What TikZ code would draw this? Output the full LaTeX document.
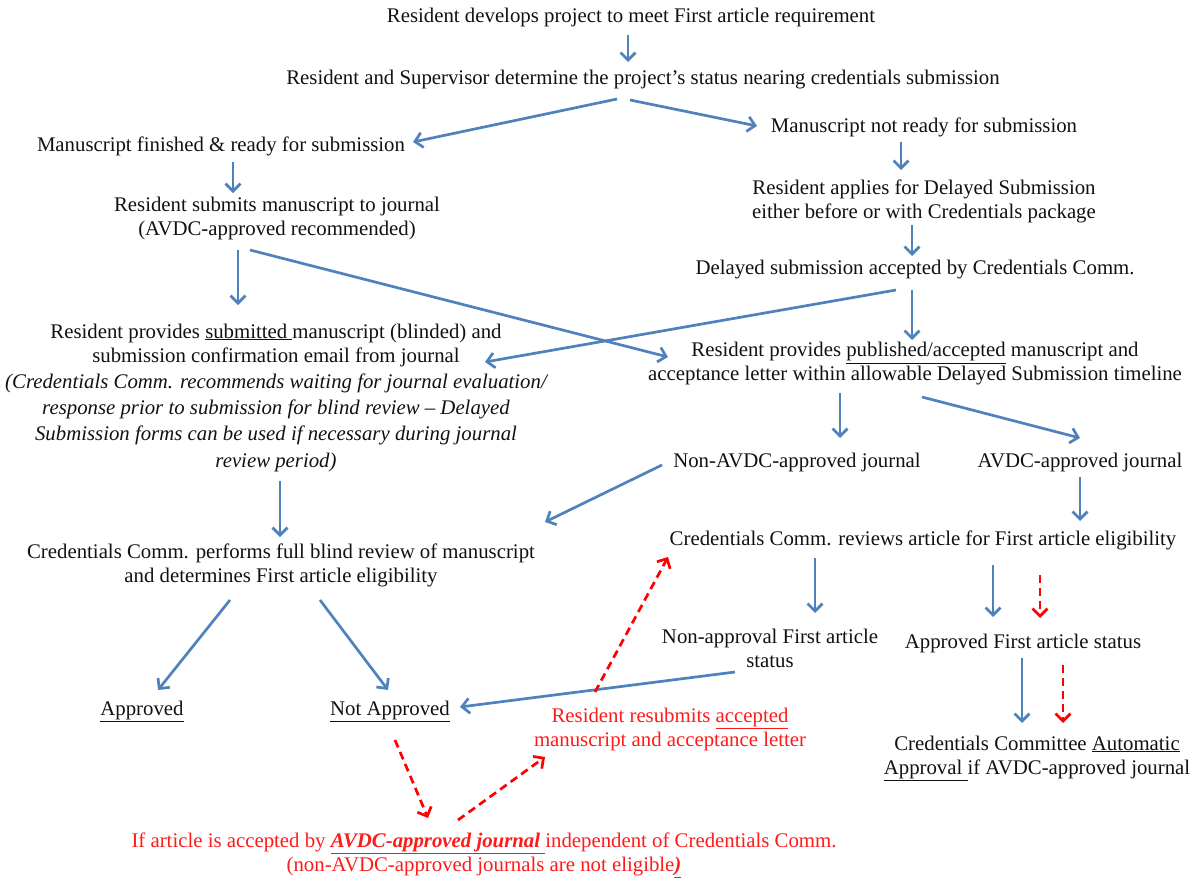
\documentclass[tikz,border=0pt]{standalone}
\usepackage{fontspec}
\setmainfont{Liberation Serif}
\usetikzlibrary{arrows.meta}
\definecolor{arrblue}{HTML}{4F81BD}
\definecolor{txt}{HTML}{111111}
\definecolor{rtxt}{HTML}{FF1A1A}
\tikzset{
  lbl/.style={align=center, inner sep=0pt, text=txt, font=\fontsize{20.8}{24}\selectfont},
  rlbl/.style={lbl, text=rtxt},
  arr/.style={draw=arrblue, line width=2.7pt, -{Straight Barb[length=7.5pt,width=15pt,line width=2.7pt]}},
  rarr/.style={draw=red, line width=2.7pt, dash pattern=on 8pt off 5pt, -{Straight Barb[length=7.5pt,width=15pt,line width=2.7pt]}}
}
\begin{document}
\begin{tikzpicture}[x=1pt,y=-1pt]
\useasboundingbox (0,0) rectangle (1190,881);
\node[lbl] (a) at (631,17) {Resident develops project to meet First article requirement};
\node[lbl] (b) at (643,80) {Resident and Supervisor determine the project’s status nearing credentials submission};
\node[lbl] (c) at (221,146) {Manuscript finished \& ready for submission};
\node[lbl] (d) at (924,127) {Manuscript not ready for submission};
\node[lbl] (e) at (277,218) {Resident submits manuscript to journal\\(AVDC-approved recommended)};
\node[lbl] (f) at (924,201) {Resident applies for Delayed Submission\\either before or with Credentials package};
\node[lbl] (g) at (915,270) {Delayed submission accepted by Credentials Comm.};
\node[lbl] (hA) at (276,345) {Resident provides \underline{submitted\ }manuscript (blinded) and\\submission confirmation email from journal};
\node[lbl, font=\fontsize{20.8}{26.3}\selectfont\itshape] (hB) at (276,422.5) {(Credentials Comm. recommends waiting for journal evaluation/\\response prior to submission for blind review – Delayed\\Submission forms can be used if necessary during journal\\review period)};
\node[lbl] (i) at (915,364) {Resident provides \underline{published/accepted} manuscript and\\acceptance letter within allowable Delayed Submission timeline};
\node[lbl] (j) at (797,462) {Non-AVDC-approved journal};
\node[lbl] (k) at (1080,462) {AVDC-approved journal};
\node[lbl] (l) at (281,565) {Credentials Comm. performs full blind review of manuscript\\and determines First article eligibility};
\node[lbl] (m) at (923,540) {Credentials Comm. reviews article for First article eligibility};
\node[lbl] (n) at (770,648) {Non-approval First article\\status};
\node[lbl] (o) at (1023,643) {Approved First article status};
\node[lbl] (p) at (142,711) {\underline{Approved}};
\node[lbl] (q) at (390,711) {\underline{Not Approved}};
\node[rlbl] (r) at (670,729) {Resident resubmits \underline{accepted}\\manuscript and acceptance letter};
\node[lbl] (s) at (1037,758) {Credentials Committee \underline{Automatic}\\\underline{Approval\ }if AVDC-approved journal};
\node[rlbl] (t) at (484,855) {If article is accepted by \underline{\bfseries\itshape AVDC-approved journal\ }independent of Credentials Comm.\\(non-AVDC-approved journals are not eligible\underline{\bfseries\itshape )}};
% blue connectors
\draw[arr] ([shift={(-3,18)}]a.center) -- ([shift={(-15,-18)}]b.center);
\draw[arr] ([shift={(-26,19)}]b.center) -- ([shift={(192,-4)}]c.center);
\draw[arr] ([shift={(-13,20)}]b.center) -- ([shift={(-167,-1)}]d.center);
\draw[arr] ([shift={(12,16)}]c.center) -- ([shift={(-44,-25)}]e.center);
\draw[arr] ([shift={(-23,15)}]d.center) -- ([shift={(-23,-31)}]f.center);
\draw[arr] ([shift={(-12,24)}]f.center) -- ([shift={(-3,-14)}]g.center);
\draw[arr] ([shift={(-39,32)}]e.center) -- ([shift={(-38,-40)}]hA.center);
\draw[arr] ([shift={(-27,32)}]e.center) -- ([shift={(-247,-7)}]i.center);
\draw[arr] ([shift={(-19,20)}]g.center) -- ([shift={(209,17)}]hA.center);
\draw[arr] ([shift={(-3,20)}]g.center) -- ([shift={(-3,-24)}]i.center);
\draw[arr] ([shift={(-75,29)}]i.center) -- ([shift={(43,-24)}]j.center);
\draw[arr] ([shift={(7,33)}]i.center) -- ([shift={(0,-24)}]k.center);
\draw[arr] ([shift={(-135,3)}]j.center) -- ([shift={(264,-43)}]l.center);
\draw[arr] ([shift={(4,58.5)}]hB.center) -- ([shift={(-1,-28)}]l.center);
\draw[arr] ([shift={(0,15)}]k.center) -- ([shift={(157,-19)}]m.center);
\draw[arr] ([shift={(-51,35)}]l.center) -- ([shift={(16,-21)}]p.center);
\draw[arr] ([shift={(39,35)}]l.center) -- ([shift={(-2,-21)}]q.center);
\draw[arr] ([shift={(-108,18)}]m.center) -- ([shift={(45,-35)}]n.center);
\draw[arr] ([shift={(70,25)}]m.center) -- ([shift={(-30,-26)}]o.center);
\draw[arr] ([shift={(-1,15)}]o.center) -- ([shift={(-15,-35)}]s.center);
\draw[arr] ([shift={(-35,24)}]n.center) -- ([shift={(70,-4)}]q.center);
% red dashed connectors
\draw[rarr] ([shift={(117,35)}]m.center) -- ([shift={(17,-25)}]o.center);
\draw[rarr] ([shift={(40,22)}]o.center) -- ([shift={(26,-35)}]s.center);
\draw[rarr] ([shift={(5,29)}]q.center) -- ([shift={(-56,-37)}]t.center);
\draw[rarr] ([shift={(-26,-35)}]t.center) -- ([shift={(-125,28)}]r.center);
\draw[rarr] ([shift={(-75,-37)}]r.center) -- ([shift={(-255,17)}]m.center);
\end{tikzpicture}
\end{document}
